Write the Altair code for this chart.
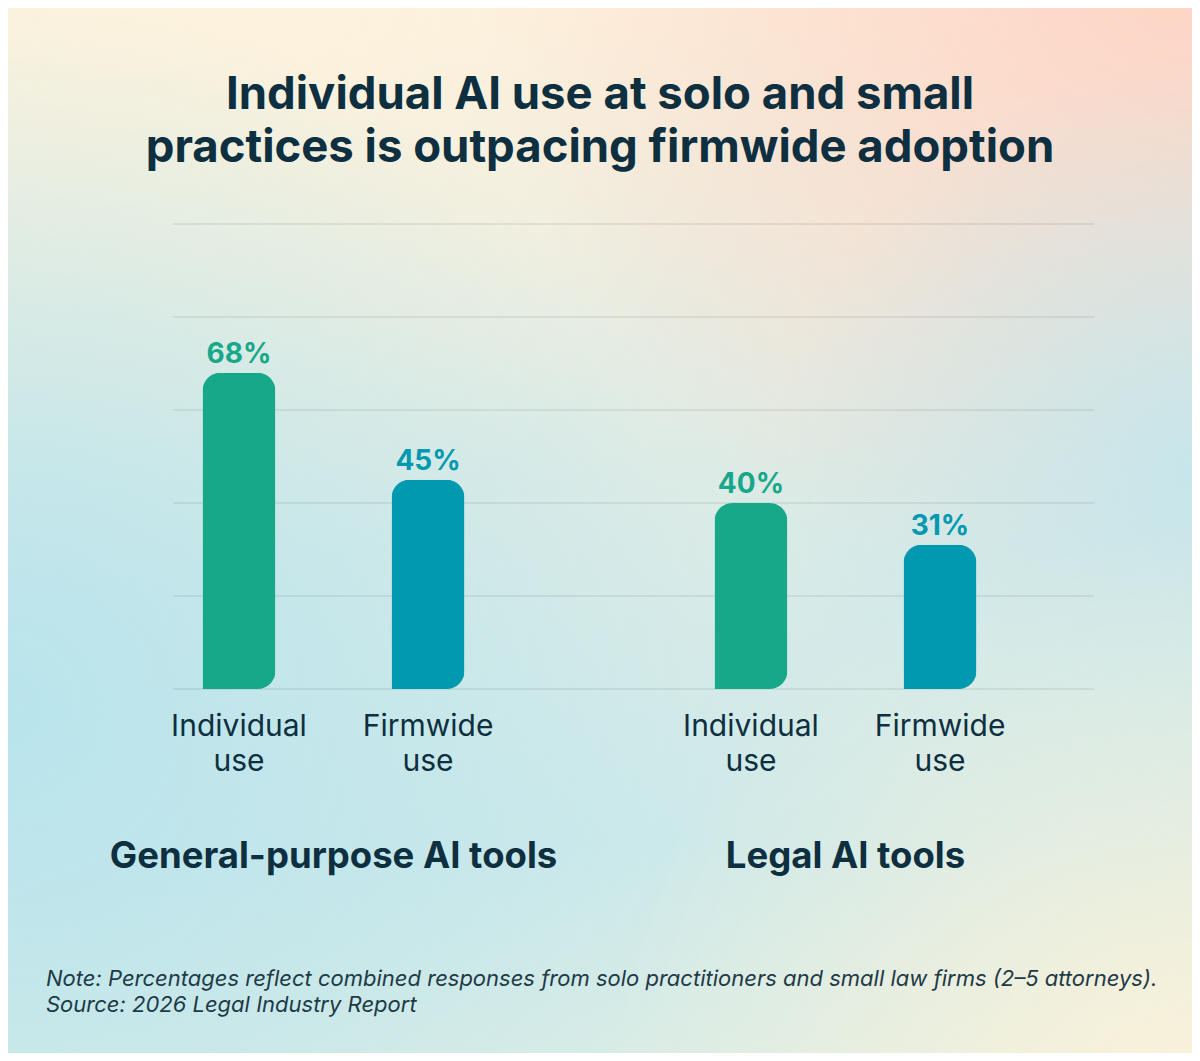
import altair as alt
import pandas as pd

# chart values
groups = ["General-purpose AI tools", "General-purpose AI tools", "Legal AI tools", "Legal AI tools"]
measures = ["Individual use", "Firmwide use", "Individual use", "Firmwide use"]
shares = [68, 45, 40, 31]
grid_ticks = [0, 20, 40, 60, 80, 100]

title_lines = [
    "Individual AI use at solo and small",
    "practices is outpacing firmwide adoption",
]
note_lines = [
    "Note: Percentages reflect combined responses from solo practitioners and small law firms (2\u20135 attorneys).",
    "Source: 2026 Legal Industry Report",
]

INK = "#0d2f3f"
FONT = "Inter"
BAR_COLORS = ["#17a88a", "#0099b0"]

df = pd.DataFrame({"group": groups, "measure": measures, "share": shares})
df["label"] = df["share"].astype(str) + "%"

W, H = 921, 465
PAD = {"left": 165, "top": 216, "right": 98, "bottom": 364}

x = alt.X(
    "group:N",
    sort=None,
    scale=alt.Scale(range=[0, 833], paddingInner=0.373, paddingOuter=0),
    axis=alt.Axis(
        title=None, domain=False, ticks=False, labelFont=FONT, labelFontSize=36.5,
        labelFontWeight="bold", labelColor=INK, labelPadding=178,
        labelBaseline="alphabetic", labelAngle=0, zindex=1, labelLimit=600,
    ),
)
x_off = alt.XOffset(
    "measure:N",
    sort=["Individual use", "Firmwide use"],
    scale=alt.Scale(paddingInner=0.614, paddingOuter=0.156),
)
y = alt.Y("share:Q", scale=alt.Scale(domain=[0, 100]), axis=None)

one_row = alt.Data(values=[{}])


def glow(cx, cy, r, color, alpha=1.0):
    return {
        "gradient": "radial",
        "x1": cx, "y1": cy, "r1": 0,
        "x2": cx, "y2": cy, "r2": r,
        "stops": [
            {"offset": 0, "color": f"rgba({color},{alpha})"},
            {"offset": 1, "color": f"rgba({color},0)"},
        ],
    }


def bg_layer(fill):
    return alt.Chart(one_row).mark_rect(color=fill, strokeWidth=0).encode(
        x=alt.value(-PAD["left"]), x2=alt.value(W + PAD["right"]),
        y=alt.value(-PAD["top"]), y2=alt.value(H + PAD["bottom"]),
    )


base_fill = {
    "gradient": "linear", "x1": 0, "y1": 0, "x2": 0, "y2": 1,
    "stops": [
        {"offset": 0, "color": "#fcf0dc"},
        {"offset": 0.45, "color": "#dcebe6"},
        {"offset": 0.8, "color": "#cde9ea"},
        {"offset": 1, "color": "#d8ece6"},
    ],
}
backgrounds = [
    bg_layer(base_fill),
    bg_layer(glow(0.1, 0.0, 0.55, "253,243,221")),
    bg_layer(glow(1.0, 0.0, 0.6, "253,211,196")),
    bg_layer(glow(0.0, 0.65, 0.6, "185,228,236")),
    bg_layer(glow(1.0, 0.45, 0.35, "196,230,236", 0.9)),
    bg_layer(glow(1.0, 1.0, 0.5, "253,242,216")),
]

grid = alt.Chart(pd.DataFrame({"tick": grid_ticks})).mark_rule(
    color="#000000", opacity=0.13, strokeWidth=1
).encode(y=alt.Y("tick:Q", scale=alt.Scale(domain=[0, 100]), axis=None))

base = alt.Chart(df).encode(x=x, xOffset=x_off)

color = alt.Color(
    "measure:N", sort=["Individual use", "Firmwide use"],
    scale=alt.Scale(range=BAR_COLORS), legend=None,
)

bars = base.mark_bar(
    cornerRadiusTopLeft=18, cornerRadiusTopRight=18,
    cornerRadiusBottomRight=18, cornerRadiusBottomLeft=0,
).encode(y=y, color=color)

values = base.mark_text(
    font=FONT, fontSize=28, fontWeight="bold", baseline="alphabetic", dy=-10,
).encode(y=y, text="label:N", color=color)

cats = base.mark_text(
    font=FONT, fontSize=30, color=INK, baseline="alphabetic", dy=47,
    lineBreak=" ", lineHeight=35,
).encode(y=alt.Y(datum=0), text="measure:N")

title = alt.Chart(one_row).mark_text(
    text=title_lines, font=FONT, fontSize=45.5, fontWeight="bold", color=INK,
    align="center", baseline="alphabetic", lineHeight=53,
).encode(x=alt.value(600 - 173), y=alt.value(109 - 224))

note = alt.Chart(one_row).mark_text(
    text=note_lines, font=FONT, fontSize=22, fontStyle="italic", color="#1e3a47",
    align="left", baseline="alphabetic", lineHeight=26,
).encode(x=alt.value(46 - 173), y=alt.value(986 - 224))

chart = alt.layer(*backgrounds, grid, bars, values, cats, title, note).properties(
    width=W, height=H, padding=PAD,
    autosize=alt.AutoSizeParams(type="none"),
).configure_view(stroke=None).configure(background="#fcf0dc")

chart.save("out.html", embed_options={"renderer": "svg", "actions": False})
